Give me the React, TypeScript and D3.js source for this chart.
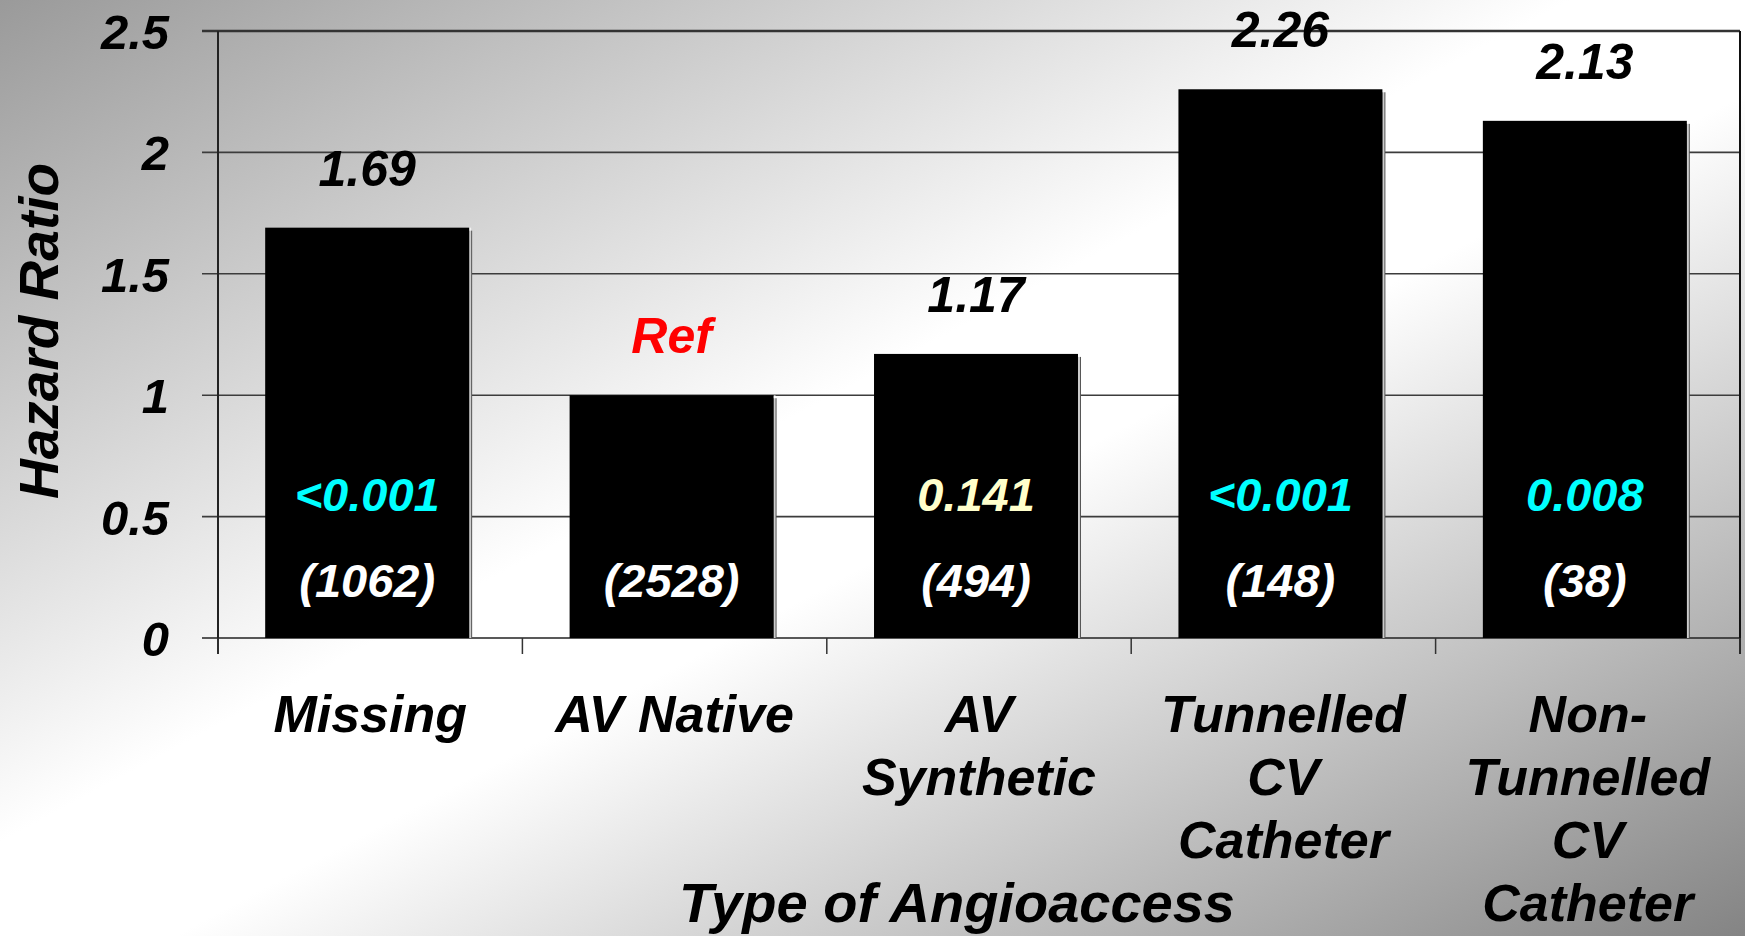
import React from "react";
import * as d3 from "d3";

const categories = ["Missing", "AV Native", "AV Synthetic", "Tunnelled CV Catheter", "Non-Tunnelled CV Catheter"];
const categoryLines = [["Missing"], ["AV Native"], ["AV", "Synthetic"], ["Tunnelled", "CV", "Catheter"], ["Non-", "Tunnelled", "CV", "Catheter"]];
const hazardRatios = [1.69, 1, 1.17, 2.26, 2.13];
const valueLabels = ["1.69", "Ref", "1.17", "2.26", "2.13"];
const pValues = ["<0.001", "", "0.141", "<0.001", "0.008"];
const sampleSizes = ["(1062)", "(2528)", "(494)", "(148)", "(38)"];
const yTicks = [0, 0.5, 1, 1.5, 2, 2.5];

const W = 1745;
const H = 936;
const FONT = "'Liberation Sans', Arial, sans-serif";

export default function App() {
  const left = 218, right = 1740, top = 31, bottom = 638;
  const y = d3.scaleLinear().domain([0, 2.5]).range([bottom, top]);
  const x = d3.scaleBand<string>().domain(categories).range([left, right - 6]).paddingInner(0.33).paddingOuter(0.155);
  const step = (right - left) / categories.length;
  const edges = d3.range(categories.length + 1).map((i) => left + i * step);

  const pColor = (p: string) => (p === "0.141" ? "#FFFFCC" : "#00FFFF");

  return (
    <svg width={W} height={H} style={{ position: "absolute", left: 0, top: 0 }} fontFamily={FONT}>
      <defs>
        <linearGradient id="bg" x1="0" y1="0" x2="1" y2="1">
          <stop offset="0" stopColor="#9a9a9a" />
          <stop offset="0.45" stopColor="#ffffff" />
          <stop offset="0.55" stopColor="#ffffff" />
          <stop offset="1" stopColor="#848484" />
        </linearGradient>
      </defs>
      <rect x={0} y={0} width={W} height={H} fill="url(#bg)" />

      {/* gridlines */}
      {yTicks.map((t) => (
        <line key={"g" + t} x1={202} x2={right} y1={y(t)} y2={y(t)}
          stroke={t === 2.5 ? "#333" : t === 0 ? "#222" : "#3c3c3c"} strokeWidth={t === 2.5 ? 2.5 : 1.6} />
      ))}
      {/* y axis */}
      <line x1={left} x2={left} y1={top} y2={654} stroke="#222" strokeWidth={2} />
      {/* right border */}
      <line x1={right} x2={right} y1={top} y2={654} stroke="#111" strokeWidth={2} />
      {/* x ticks */}
      {edges.map((e, i) => (
        <line key={"xt" + i} x1={e} x2={e} y1={bottom} y2={654} stroke="#333" strokeWidth={1.5} />
      ))}

      {/* bars */}
      {categories.map((c, i) => {
        const bx = x(c)!;
        const bw = x.bandwidth();
        const by = y(hazardRatios[i]);
        return (
          <g key={"b" + i}>
            <rect x={bx + 3} y={by + 3} width={bw} height={bottom - by - 3} fill="#555" />
            <rect x={bx + bw} y={by} width={2} height={bottom - by} fill="#fff" opacity={0.7} />
            <rect x={bx} y={by} width={bw} height={bottom - by} fill="#000" />
          </g>
        );
      })}

      {/* value labels */}
      {categories.map((c, i) => (
        <text key={"v" + i} x={x(c)! + x.bandwidth() / 2} y={y(hazardRatios[i]) - 42}
          textAnchor="middle" fontSize={50} fontWeight="bold" fontStyle="italic"
          fill={valueLabels[i] === "Ref" ? "#FF0000" : "#000"}>
          {valueLabels[i]}
        </text>
      ))}

      {/* p-values */}
      {categories.map((c, i) =>
        pValues[i] ? (
          <text key={"p" + i} x={x(c)! + x.bandwidth() / 2} y={511}
            textAnchor="middle" fontSize={47} fontWeight="bold" fontStyle="italic" fill={pColor(pValues[i])}>
            {pValues[i]}
          </text>
        ) : null
      )}
      {/* sample sizes */}
      {categories.map((c, i) => (
        <text key={"n" + i} x={x(c)! + x.bandwidth() / 2} y={597}
          textAnchor="middle" fontSize={47} fontWeight="bold" fontStyle="italic" fill="#fff">
          {sampleSizes[i]}
        </text>
      ))}

      {/* y tick labels */}
      {yTicks.map((t) => (
        <text key={"yl" + t} x={169} y={y(t) + 18} textAnchor="end" fontSize={49}
          fontWeight="bold" fontStyle="italic" fill="#000">
          {String(t)}
        </text>
      ))}

      {/* category labels */}
      {categories.map((c, i) => (
        <text key={"c" + i} x={edges[i] + step / 2} textAnchor="middle" fontSize={52}
          fontWeight="bold" fontStyle="italic" fill="#000">
          {categoryLines[i].map((ln, j) => (
            <tspan key={j} x={edges[i] + step / 2} y={732 + j * 63}>{ln}</tspan>
          ))}
        </text>
      ))}

      {/* axis titles */}
      <text x={957} y={922} textAnchor="middle" fontSize={56} fontWeight="bold" fontStyle="italic" fill="#000">
        Type of Angioaccess
      </text>
      <text transform="translate(58,331) rotate(-90)" textAnchor="middle" fontSize={55}
        fontWeight="bold" fontStyle="italic" fill="#000">
        Hazard Ratio
      </text>
    </svg>
  );
}
